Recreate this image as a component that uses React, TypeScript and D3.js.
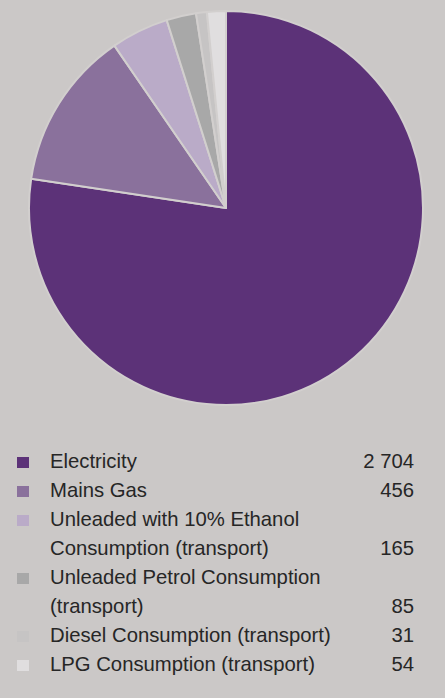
import React from "react";
import * as d3 from "d3";

const categories = [
  "Electricity",
  "Mains Gas",
  "Unleaded with 10% Ethanol Consumption (transport)",
  "Unleaded Petrol Consumption (transport)",
  "Diesel Consumption (transport)",
  "LPG Consumption (transport)",
];
const values = [2704, 456, 165, 85, 31, 54];
const valueLabels = ["2 704", "456", "165", "85", "31", "54"];
const legendLines = [
  ["Electricity"],
  ["Mains Gas"],
  ["Unleaded with 10% Ethanol", "Consumption (transport)"],
  ["Unleaded Petrol Consumption", "(transport)"],
  ["Diesel Consumption (transport)"],
  ["LPG Consumption (transport)"],
];
const colors = ["#5C3278", "#8A719C", "#BAABC8", "#A8A8A8", "#C6C4C4", "#E0DEDF"];

const W = 445;
const H = 698;
const BG = "#CBC8C7";

export default function App() {
  const cx = 226;
  const cy = 208;
  const r = 197;
  const data = categories.map((c, i) => ({ c, v: values[i], i }));
  const pie = d3.pie<any>().value((d) => d.v).sort(null);
  const arcs = pie(data);
  const arc = d3.arc<any>().innerRadius(0).outerRadius(r);

  const lineH = 29;
  const firstBase = 468;
  let lineIdx = 0;
  const rows = legendLines.map((lines, i) => {
    const start = lineIdx;
    lineIdx += lines.length;
    return { lines, start, i };
  });

  return (
    <div style={{ position: "fixed", left: 0, top: 0, width: W, height: H }}>
      <svg width={W} height={H} style={{ display: "block" }}>
        <rect x={0} y={0} width={W} height={H} fill={BG} />
        <g transform={`translate(${cx},${cy})`}>
          {arcs.map((a, i) => (
            <path
              key={i}
              d={arc(a) as string}
              fill={colors[i]}
              stroke="#D2CFCE"
              strokeWidth={2}
              strokeLinejoin="round"
            />
          ))}
        </g>
        <g fontFamily="'Liberation Sans', Arial, sans-serif" fontSize={20.3} fill="#262626">
          {rows.map((row) => {
            const y0 = firstBase + row.start * lineH;
            const lastY = firstBase + (row.start + row.lines.length - 1) * lineH;
            return (
              <g key={row.i}>
                <rect x={17} y={y0 - 11} width={12} height={11} fill={colors[row.i]} />
                {row.lines.map((t, k) => (
                  <text key={k} x={50} y={y0 + k * lineH}>
                    {t}
                  </text>
                ))}
                <text x={414} y={lastY} textAnchor="end">
                  {valueLabels[row.i]}
                </text>
              </g>
            );
          })}
        </g>
      </svg>
    </div>
  );
}
